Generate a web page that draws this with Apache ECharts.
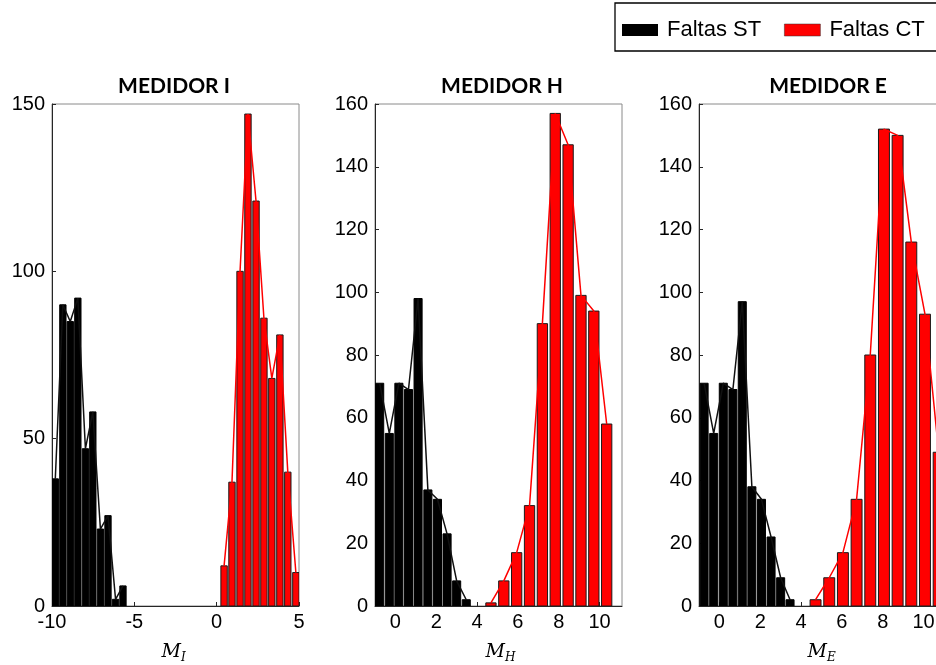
<!DOCTYPE html>
<html>
<head>
<meta charset="utf-8">
<script src="https://cdn.jsdelivr.net/npm/echarts@6/dist/echarts.min.js"></script>
<style>
  html, body { margin: 0; padding: 0; background: #fff; }
  #chart { width: 936px; height: 665px; }
</style>
</head>
<body>
<div id="chart"></div>
<script>
// Histogram bin centres and counts for each meter (ST = sem terra, CT = com terra)
const binsST_I   = [-9.80, -9.34, -8.89, -8.43, -7.97, -7.52, -7.06, -6.60, -6.14, -5.69];
const countsST_I = [38, 90, 85, 92, 47, 58, 23, 27, 2, 6];
const binsCT_I   = [0.45, 0.93, 1.42, 1.90, 2.39, 2.87, 3.35, 3.84, 4.32, 4.81];
const countsCT_I = [12, 37, 100, 147, 121, 86, 68, 81, 40, 10];

const binsST_H   = [-0.77, -0.30, 0.17, 0.64, 1.11, 1.59, 2.06, 2.53, 3.00, 3.47];
const countsST_H = [71, 55, 71, 69, 98, 37, 34, 23, 8, 2];
const binsCT_H   = [4.68, 5.31, 5.94, 6.57, 7.20, 7.83, 8.46, 9.09, 9.72, 10.35];
const countsCT_H = [1, 8, 17, 32, 90, 157, 147, 99, 94, 58];

const binsST_E   = [-0.75, -0.28, 0.19, 0.66, 1.12, 1.59, 2.06, 2.53, 3.00, 3.46];
const countsST_E = [71, 55, 71, 69, 97, 38, 34, 22, 9, 2];
const binsCT_E   = [4.71, 5.38, 6.05, 6.72, 7.39, 8.06, 8.73, 9.40, 10.07, 10.74];
const countsCT_E = [2, 9, 17, 34, 80, 152, 150, 116, 93, 49];

const panelTitles = ['MEDIDOR I', 'MEDIDOR H', 'MEDIDOR E'];
const axisSubscripts = ['I', 'H', 'E'];
const xTicksI = [-10, -5, 0, 5];
const xTicksHE = [0, 2, 4, 6, 8, 10];
const yTicksI = [0, 50, 100, 150];
const yTicksHE = [0, 20, 40, 60, 80, 100, 120, 140, 160];
const legendNames = ['Faltas ST', 'Faltas CT'];

const RED = '#ff0000';
const BLACK = '#000000';
const AXIS = '#262626';
const FONT = 'Liberation Sans, Arial, sans-serif';
const MATH_FONT = 'DejaVu Serif';

const panels = [
  { st: [binsST_I, countsST_I], ct: [binsCT_I, countsCT_I], xMin: -10, xMax: 5, xTicks: xTicksI, yMax: 150, yTicks: yTicksI },
  { st: [binsST_H, countsST_H], ct: [binsCT_H, countsCT_H], xMin: -1, xMax: 11.1, xTicks: xTicksHE, yMax: 160, yTicks: yTicksHE },
  { st: [binsST_E, countsST_E], ct: [binsCT_E, countsCT_E], xMin: -1, xMax: 11.1, xTicks: xTicksHE, yMax: 160, yTicks: yTicksHE }
];
const GRID_TOP = 104, GRID_W = 247, GRID_H = 502;
const gridLefts = [52, 375, 699];
const titleCenters = [169, 497, 823];
const nameCenters = [178, 502, 824];

function pairs(xs, ys) { return xs.map((x, i) => [x, ys[i]]); }

// Bars of a histogram: each rect spans a fraction of the bin step around its centre
function histSeries(name, bins, counts, idx, fill, stroke, fraction) {
  const step = (bins[bins.length - 1] - bins[0]) / (bins.length - 1);
  const half = step * fraction / 2;
  return {
    type: 'custom', name: name, xAxisIndex: idx, yAxisIndex: idx,
    data: pairs(bins, counts),
    itemStyle: { color: fill, borderColor: stroke, borderWidth: 1 },
    clip: true,
    renderItem: function (params, api) {
      const x = api.value(0), y = api.value(1);
      const a = api.coord([x - half, y]);
      const b = api.coord([x + half, 0]);
      return {
        type: 'rect',
        shape: { x: a[0], y: a[1], width: b[0] - a[0], height: b[1] - a[1] },
        style: { fill: fill, stroke: stroke, lineWidth: 1 }
      };
    }
  };
}

// Frequency polygon through the bar tops
function polySeries(name, bins, counts, idx, color) {
  return {
    type: 'line', name: name, xAxisIndex: idx, yAxisIndex: idx,
    data: pairs(bins, counts), symbol: 'none', z: 5,
    lineStyle: { color: color, width: 1.5 }, silent: true
  };
}

const grids = [], xAxes = [], yAxes = [], series = [], titles = [], graphics = [];
panels.forEach((p, i) => {
  grids.push({
    left: gridLefts[i], top: GRID_TOP, width: GRID_W, height: GRID_H,
    show: true, borderColor: '#8a8a8a', borderWidth: 1,
    containLabel: false, outerBoundsMode: 'none'
  });
  xAxes.push({
    type: 'value', gridIndex: i, min: p.xMin, max: p.xMax,
    splitLine: { show: false },
    axisLine: { show: true, onZero: false, lineStyle: { color: AXIS, width: 1 } },
    axisTick: { show: true, inside: true, length: 4, lineStyle: { color: AXIS }, customValues: p.xTicks },
    axisLabel: { show: true, customValues: p.xTicks, color: '#000', fontFamily: FONT, fontSize: 20, margin: 6,
                 showMinLabel: true, showMaxLabel: true, hideOverlap: false }
  });
  yAxes.push({
    type: 'value', gridIndex: i, min: 0, max: p.yMax,
    splitLine: { show: false },
    axisLine: { show: true, onZero: false, lineStyle: { color: AXIS, width: 1 } },
    axisTick: { show: true, inside: true, length: 4, lineStyle: { color: AXIS }, customValues: p.yTicks },
    axisLabel: { show: true, customValues: p.yTicks, color: '#000', fontFamily: FONT, fontSize: 20, margin: 7 }
  });
  series.push(histSeries(legendNames[0], p.st[0], p.st[1], i, BLACK, BLACK, 0.84));
  series.push(histSeries(legendNames[1], p.ct[0], p.ct[1], i, RED, '#1a1a1a', 0.8));
  series.push(polySeries('poly-st-' + i, p.st[0], p.st[1], i, '#111111'));
  series.push(polySeries('poly-ct-' + i, p.ct[0], p.ct[1], i, RED));
  titles.push({
    text: panelTitles[i], left: titleCenters[i], top: 71, textAlign: 'center',
    textStyle: { fontFamily: 'Lato', fontWeight: 'bold', fontSize: 21, color: '#000' }
  });
  // Axis name: italic M with a subscript letter
  graphics.push({
    type: 'text', x: nameCenters[i] + 3, y: 652, silent: true,
    style: { text: 'M', font: 'italic 19px "' + MATH_FONT + '"', fill: '#000', align: 'right', verticalAlign: 'middle' }
  });
  graphics.push({
    type: 'text', x: nameCenters[i] + 3, y: 658, silent: true,
    style: { text: axisSubscripts[i], font: 'italic 12px "' + MATH_FONT + '"', fill: '#000', align: 'left', verticalAlign: 'middle' }
  });
});

const chart = echarts.init(document.getElementById('chart'), null, { renderer: 'canvas' });
chart.setOption({
  animation: false,
  backgroundColor: '#fff',
  title: titles,
  legend: {
    left: 615, top: 3, width: 420, orient: 'horizontal',
    data: [
      { name: legendNames[0], itemStyle: { color: BLACK, borderWidth: 0 } },
      { name: legendNames[1], itemStyle: { color: RED, borderColor: '#333', borderWidth: 0.5 } }
    ],
    icon: 'rect', itemWidth: 36, itemHeight: 12, itemGap: 23,
    padding: [16, 30, 10, 7],
    borderColor: '#000', borderWidth: 1.3,
    selectedMode: false,
    textStyle: { fontFamily: FONT, fontSize: 22, color: '#000', padding: [0, 0, 0, 4] }
  },
  grid: grids,
  xAxis: xAxes,
  yAxis: yAxes,
  graphic: graphics,
  series: series
});
</script>
</body>
</html>
